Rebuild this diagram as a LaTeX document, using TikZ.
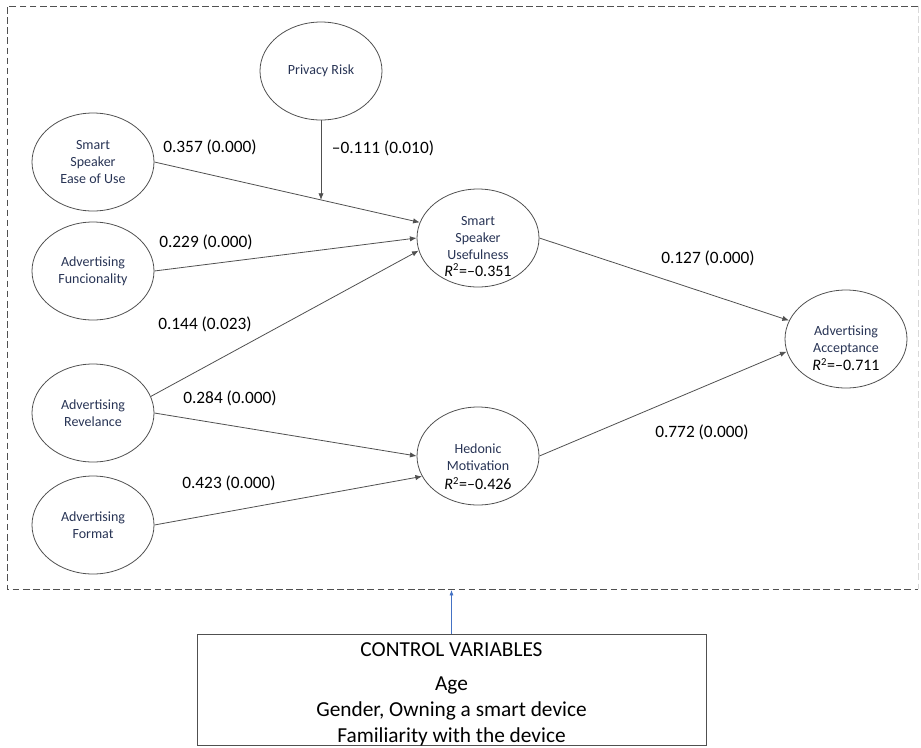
\documentclass[tikz,border=0pt]{standalone}
\usepackage{fontspec}
\setmainfont{Carlito}
\usetikzlibrary{shapes.geometric,arrows.meta}

\definecolor{nodeblue}{RGB}{40,52,85}
\definecolor{linegray}{RGB}{80,80,80}
\definecolor{ctrlblue}{RGB}{68,114,196}

\newcommand{\rsq}[1]{{\color{black}\fontsize{12}{12.75}\selectfont\textit{R}\textsuperscript{2}=–#1}}

\tikzset{
  latent/.style={draw=linegray, ellipse, line width=0.6pt, minimum width=91.5pt,
    minimum height=73.5pt, inner sep=0pt, align=center,
    font=\fontsize{10.5}{12.75}\selectfont, text=nodeblue},
  lattext/.style={align=center, inner sep=0pt, font=\fontsize{10.5}{12.75}\selectfont,
    text=nodeblue},
  effect/.style={draw=linegray, line width=0.6pt, -{Latex[length=5pt,width=4pt]}},
  coef/.style={font=\fontsize{13}{15}\selectfont, inner sep=0pt},
  ctrlbox/.style={draw=linegray, line width=0.6pt, minimum width=381.75pt,
    minimum height=83.25pt, inner sep=0pt},
  ctrltext/.style={align=center, inner sep=0pt, font=\fontsize{16}{19.5}\selectfont},
}

\begin{document}
\begin{tikzpicture}[x=0.75pt, y=-0.75pt]
  \useasboundingbox (0,0) rectangle (921,747);

  % Dashed frame round the model
  \draw[linegray, line width=0.6pt, dash pattern=on 5pt off 2.6pt]
    (918,6) -- (7,6) -- (7,589) -- (918,589);
  \draw[gray!30, line width=0.6pt, dash pattern=on 5pt off 2.6pt] (918,6) -- (918,589);

  % Constructs
  \node[latent] (priv) at (321,71) {Privacy Risk};
  \node[latent] (ease) at (93,162) {Smart\\Speaker\\Ease of Use};
  \node[latent] (func) at (93,271) {Advertising\\Funcionality};
  \node[latent] (rev) at (93,413) {Advertising\\Revelance};
  \node[latent] (fmt) at (93,525) {Advertising\\Format};
  \node[latent, label={[lattext, yshift=-6.5pt, name=usetxt]center:Smart\\Speaker\\Usefulness\\\rsq{0.351}}]
    (use) at (478,238) {};
  \node[latent, label={[lattext, yshift=-8pt, name=hedtxt]center:Hedonic\\Motivation\\[2pt]\rsq{0.426}}]
    (hed) at (478,456) {};
  \node[latent, label={[lattext, yshift=-7pt, name=acctxt]center:Advertising\\Acceptance\\[1pt]\rsq{0.711}}]
    (acc) at (846,339) {};

  % Paths
  \draw[effect] (ease.east) -- coordinate[pos=0.628] (mod) (use.165);
  \draw[effect] (priv.south) -- (priv.south |- mod);
  \draw[effect] (func.east) -- (use.west);
  \draw[effect] (rev.16) -- (use.192);
  \draw[effect] (rev.east) -- (hed.west);
  \draw[effect] (fmt.east) -- (hed.200);
  \draw[effect] (use.east) -- (acc.162);
  \draw[effect] (hed.east) -- (acc.192);

  % Path coefficients (p-values)
  \node[coef] (c1) at (210,147) {0.357 (0.000)};
  \node[coef] (c2) at (383,148) {–0.111 (0.010)};
  \node[coef] (c3) at (206,242) {0.229 (0.000)};
  \node[coef] (c4) at (205,324) {0.144 (0.023)};
  \node[coef] (c5) at (230,398) {0.284 (0.000)};
  \node[coef] (c6) at (229,483) {0.423 (0.000)};
  \node[coef] (c7) at (708,258) {0.127 (0.000)};
  \node[coef] (c8) at (702,432) {0.772 (0.000)};

  % Control variables
  \node[ctrlbox, label={[ctrltext, yshift=-3.5pt, name=ctrltxt]center:CONTROL VARIABLES\\[6pt]Age\\Gender, Owning a smart device\\Familiarity with the device}]
    (ctrl) at (451.5,689.5) {};
  \coordinate (frameedge) at (451.5,590);
  \draw[ctrlblue, line width=0.5pt, -{Latex[length=4pt,width=3pt]}] (ctrl.north) -- (frameedge);
\end{tikzpicture}
\end{document}
